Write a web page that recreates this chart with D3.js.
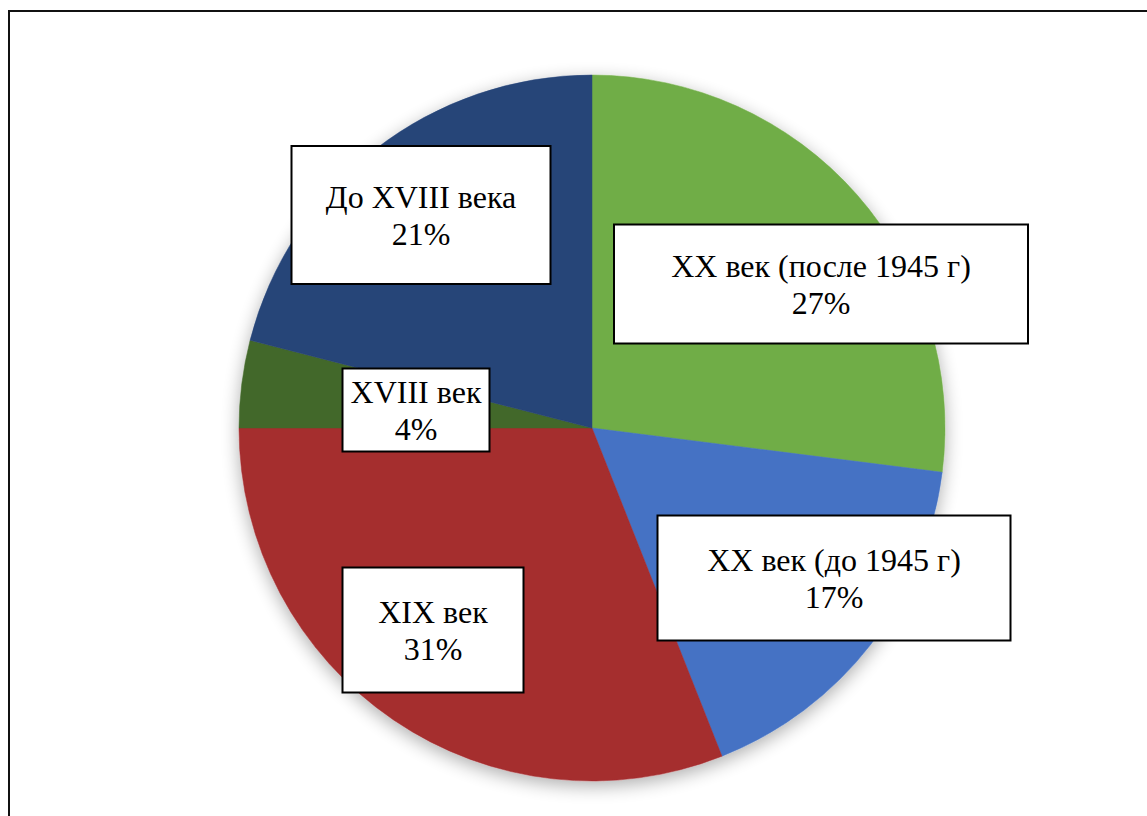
<!DOCTYPE html>
<html>
<head>
<meta charset="utf-8">
<script src="https://cdn.jsdelivr.net/npm/d3@7"></script>
<style>
  html, body { margin: 0; padding: 0; background: #fff; }
  svg { display: block; }
</style>
</head>
<body>
<svg id="chart" width="1147" height="816"></svg>
<script>
// Periods and their shares, in percent (clockwise from 12 o'clock)
const categories = ["XX век (после 1945 г)", "XX век (до 1945 г)", "XIX век", "XVIII век", "До XVIII века"];
const shares = [27, 17, 31, 4, 21];
const colors = ["#70AD47", "#4472C4", "#A52D2E", "#43682B", "#264478"];

// Label box placement: centre offset from pie centre and box size (px)
const labelBoxes = [
  { dx: 229, dy: -144, w: 414, h: 119 },
  { dx: 242, dy: 150, w: 353, h: 125 },
  { dx: -159, dy: 202, w: 181, h: 125 },
  { dx: -176, dy: -18, w: 147, h: 83 },
  { dx: -171, dy: -213, w: 259, h: 138 }
];

const svg = d3.select("#chart");
const cx = 592, cy = 428, radius = 353;

// Outer frame (runs off the right and bottom edges)
svg.append("rect")
  .attr("x", 9).attr("y", 11)
  .attr("width", 1200).attr("height", 900)
  .attr("fill", "none").attr("stroke", "#111").attr("stroke-width", 2);

// Soft drop shadow under the pie
const defs = svg.append("defs");
const f = defs.append("filter").attr("id", "pieShadow")
  .attr("x", "-20%").attr("y", "-20%").attr("width", "140%").attr("height", "140%");
f.append("feGaussianBlur").attr("in", "SourceAlpha").attr("stdDeviation", 9).attr("result", "b");
f.append("feOffset").attr("in", "b").attr("dx", 0).attr("dy", 5).attr("result", "o");
f.append("feComponentTransfer").attr("in", "o").attr("result", "s")
  .append("feFuncA").attr("type", "linear").attr("slope", 0.32);
const m = f.append("feMerge");
m.append("feMergeNode").attr("in", "s");
m.append("feMergeNode").attr("in", "SourceGraphic");

const data = categories.map((c, i) => ({ label: c, value: shares[i], color: colors[i], box: labelBoxes[i] }));

const pie = d3.pie().sort(null).value(d => d.value);
const arc = d3.arc().innerRadius(0).outerRadius(radius);
const arcs = pie(data);

const g = svg.append("g").attr("transform", `translate(${cx},${cy})`);

g.append("g").attr("filter", "url(#pieShadow)")
  .selectAll("path")
  .data(arcs)
  .join("path")
  .attr("d", arc)
  .attr("fill", d => d.data.color)
  .attr("stroke", d => d.data.color)
  .attr("stroke-width", 0.5);

// Data labels: white boxes with category name and percentage
const lbl = g.selectAll("g.lbl")
  .data(arcs)
  .join("g")
  .attr("class", "lbl")
  .attr("transform", d => `translate(${d.data.box.dx},${d.data.box.dy})`);

lbl.append("rect")
  .attr("x", d => -d.data.box.w / 2)
  .attr("y", d => -d.data.box.h / 2)
  .attr("width", d => d.data.box.w)
  .attr("height", d => d.data.box.h)
  .attr("fill", "#fff")
  .attr("stroke", "#000")
  .attr("stroke-width", 2);

const fmt = d3.format(".0%");
const serifStack = '"Tinos", "Liberation Serif", "Nimbus Roman", "Times New Roman", serif';
const addLine = (y, fn) => lbl.append("text")
  .attr("text-anchor", "middle")
  .attr("fill", "#000")
  .attr("y", y)
  .text(fn)
  .each(function () {
    this.style.setProperty("font-family", serifStack, "important");
    this.style.setProperty("font-size", "32px", "important");
  });
addLine(-7, d => d.data.label);
addLine(30, d => fmt(d.data.value / 100));
</script>
</body>
</html>
